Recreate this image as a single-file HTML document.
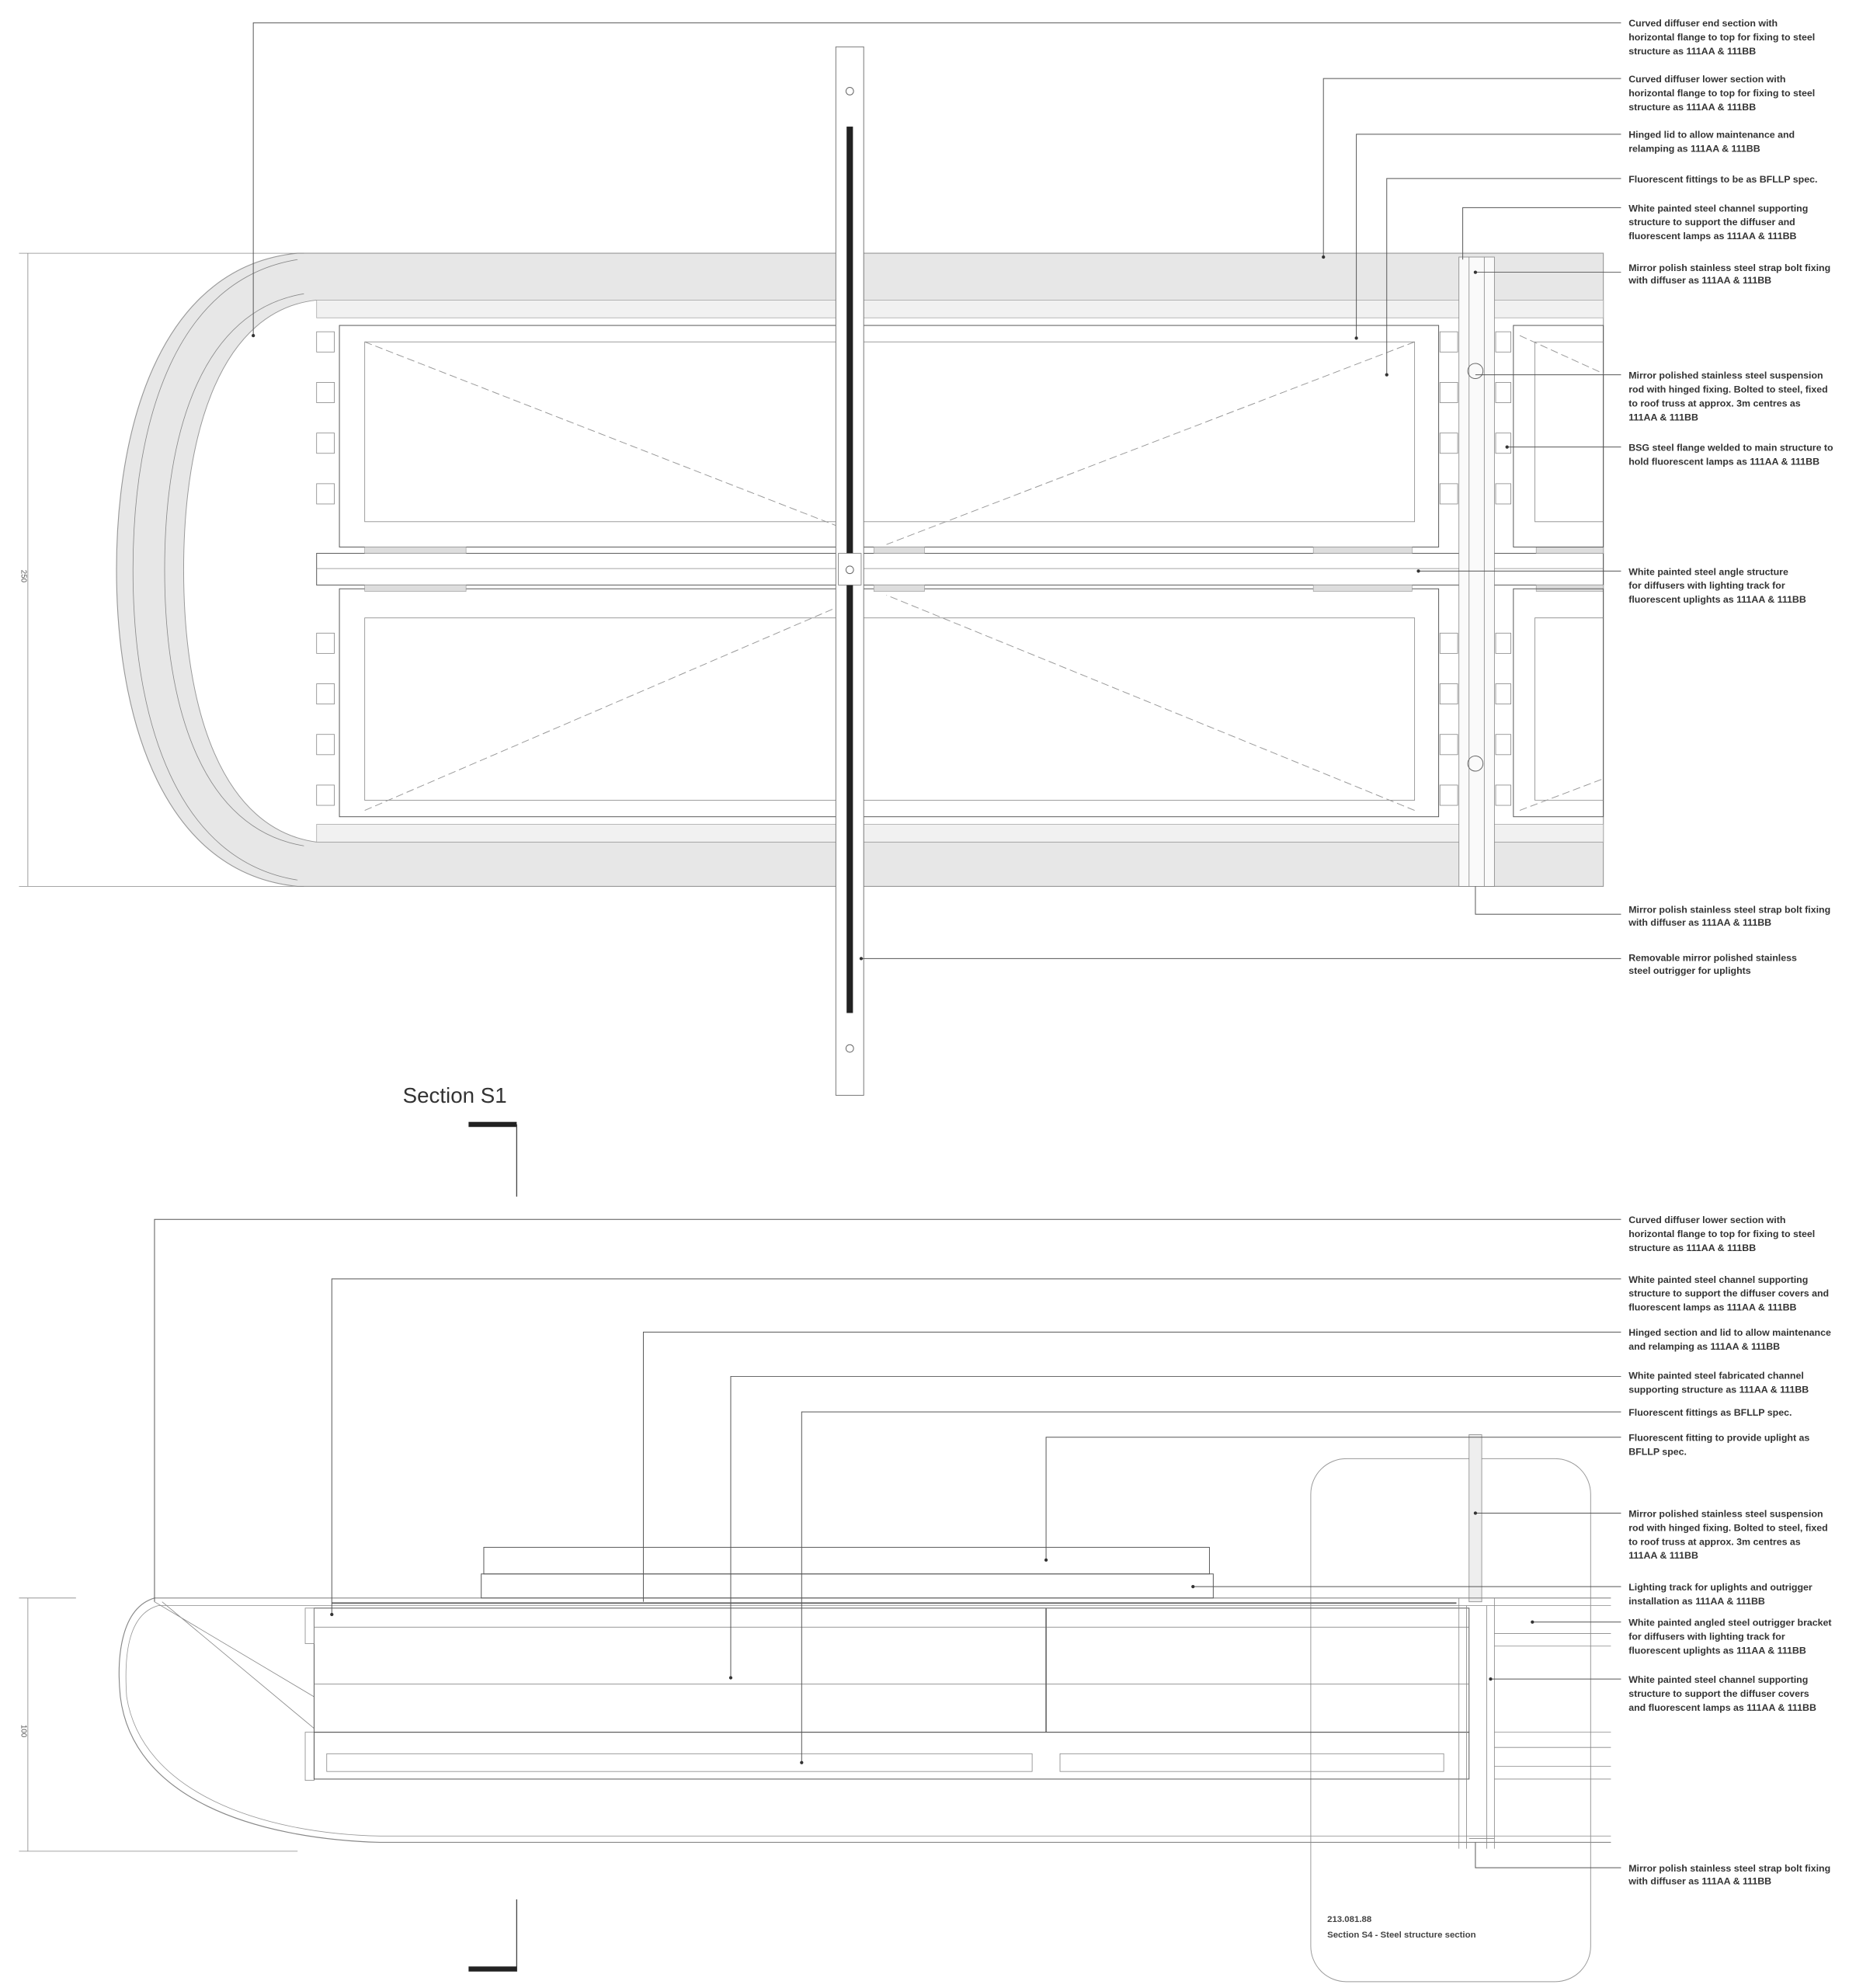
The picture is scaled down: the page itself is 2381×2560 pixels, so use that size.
<!DOCTYPE html>
<html><head><meta charset="utf-8"><style>
html,body{margin:0;padding:0;background:#fff;}
svg{display:block}
text{font-family:"Liberation Sans",sans-serif;}
.t{font-size:7.6px;font-weight:bold;fill:#333;}
.l{stroke:#555;stroke-width:0.6;fill:none}
.th{stroke:#888;stroke-width:0.5;fill:none}
.d{stroke:#999;stroke-width:0.6;fill:none;stroke-dasharray:6 3}
</style></head><body>
<svg width="2381" height="2560" viewBox="0 0 1460 1570" preserveAspectRatio="none" xmlns="http://www.w3.org/2000/svg">
<!-- ========== TOP PANEL ========== -->
<path d="M1266,200 L235,200 C130,210 92,330 92,450 C92,570 130,690 235,700 L1266,700 Z" fill="#e7e7e7" stroke="#999" stroke-width="0.7"/>
<path d="M1266,237 L250,237 C175,245 145,340 145,450 C145,560 175,655 250,665 L1266,665 Z" fill="#fff" stroke="#999" stroke-width="0.6"/>
<path d="M235,205 C140,220 105,330 105,450 C105,570 140,680 235,695" class="th"/>
<path d="M240,232 C160,245 130,340 130,450 C130,560 160,655 240,668" class="th"/>
<rect x="250" y="237" width="1016" height="14" fill="#f1f1f1" stroke="#aaa" stroke-width="0.5"/>
<rect x="250" y="651" width="1016" height="14" fill="#f1f1f1" stroke="#aaa" stroke-width="0.5"/>
<!-- left tick boxes -->
<g fill="#fff" stroke="#888" stroke-width="0.5">
<rect x="250" y="262" width="14" height="16"/><rect x="250" y="302" width="14" height="16"/><rect x="250" y="342" width="14" height="16"/><rect x="250" y="382" width="14" height="16"/>
<rect x="250" y="500" width="14" height="16"/><rect x="250" y="540" width="14" height="16"/><rect x="250" y="580" width="14" height="16"/><rect x="250" y="620" width="14" height="16"/>
<rect x="1137" y="262" width="14" height="16"/><rect x="1137" y="302" width="14" height="16"/><rect x="1137" y="342" width="14" height="16"/><rect x="1137" y="382" width="14" height="16"/>
<rect x="1137" y="500" width="14" height="16"/><rect x="1137" y="540" width="14" height="16"/><rect x="1137" y="580" width="14" height="16"/><rect x="1137" y="620" width="14" height="16"/>
<rect x="1181" y="262" width="12" height="16"/><rect x="1181" y="302" width="12" height="16"/><rect x="1181" y="342" width="12" height="16"/><rect x="1181" y="382" width="12" height="16"/>
<rect x="1181" y="500" width="12" height="16"/><rect x="1181" y="540" width="12" height="16"/><rect x="1181" y="580" width="12" height="16"/><rect x="1181" y="620" width="12" height="16"/>
</g>
<!-- panels -->
<rect x="268" y="257" width="868" height="175" class="l"/>
<rect x="268" y="465" width="868" height="180" class="l"/>
<rect x="288" y="270" width="829" height="142" class="th"/>
<rect x="288" y="488" width="829" height="144" class="th"/>
<rect x="250" y="437" width="1016" height="25" class="l"/>
<line x1="250" y1="449" x2="1266" y2="449" class="th"/>
<g fill="#ddd" stroke="#999" stroke-width="0.4">
<rect x="288" y="432" width="80" height="5"/><rect x="690" y="432" width="40" height="5"/><rect x="1037" y="432" width="78" height="5"/>
<rect x="288" y="462" width="80" height="5"/><rect x="690" y="462" width="40" height="5"/><rect x="1037" y="462" width="78" height="5"/>
<rect x="1213" y="432" width="53" height="5"/><rect x="1213" y="462" width="53" height="5"/>
</g>
<!-- diagonals -->
<line x1="288" y1="270" x2="660" y2="415" class="d"/>
<line x1="1117" y1="270" x2="700" y2="430" class="d"/>
<line x1="288" y1="640" x2="660" y2="480" class="d"/>
<line x1="1117" y1="640" x2="700" y2="470" class="d"/>
<!-- right column -->
<rect x="1152" y="203" width="28" height="497" fill="#fafafa" stroke="#888" stroke-width="0.5"/>
<line x1="1160" y1="203" x2="1160" y2="700" class="th"/><line x1="1172" y1="203" x2="1172" y2="700" class="th"/>
<circle cx="1165" cy="293" r="6" fill="none" stroke="#666" stroke-width="0.6"/>
<circle cx="1165" cy="603" r="6" fill="none" stroke="#666" stroke-width="0.6"/>
<rect x="1195" y="257" width="71" height="175" class="l"/><rect x="1195" y="465" width="71" height="180" class="l"/>
<path d="M1266,270 L1212,270 L1212,412 L1266,412 M1266,488 L1212,488 L1212,632 L1266,632" class="th"/>
<line x1="1200" y1="265" x2="1266" y2="295" class="d"/><line x1="1200" y1="640" x2="1266" y2="615" class="d"/>
<!-- vertical outrigger -->
<rect x="660" y="37" width="22" height="828" fill="#fff" stroke="#777" stroke-width="0.6"/>
<rect x="668.5" y="100" width="5" height="700" fill="#222"/>
<rect x="662" y="437" width="18" height="25" fill="#fff" stroke="#777" stroke-width="0.5"/>
<circle cx="671" cy="72" r="3" fill="none" stroke="#666" stroke-width="0.6"/>
<circle cx="671" cy="450" r="3" fill="none" stroke="#666" stroke-width="0.6"/>
<circle cx="671" cy="828" r="3" fill="none" stroke="#666" stroke-width="0.6"/>
<!-- dimension -->
<path d="M22,200 L22,700 M15,200 L240,200 M15,700 L240,700" class="th"/>
<text x="0" y="0" transform="translate(17,450) rotate(90)" font-size="6" fill="#555">250</text>
<!-- top callouts -->
<g class="l">
<path d="M1280,18 L200,18 L200,265"/>
<path d="M1280,62 L1045,62 L1045,203"/>
<path d="M1280,106 L1071,106 L1071,267"/>
<path d="M1280,141 L1095,141 L1095,296"/>
<path d="M1280,164 L1155,164 L1155,205"/>
<path d="M1280,215 L1165,215"/>
<path d="M1280,296 L1165,296"/>
<path d="M1280,353 L1190,353"/>
<path d="M1280,451 L1120,451"/>
<path d="M1280,722 L1165,722 L1165,700"/>
<path d="M1280,757 L680,757"/>
</g>
<g fill="#333"><circle cx="200" cy="265" r="1.3"/><circle cx="1045" cy="203" r="1.3"/><circle cx="1071" cy="267" r="1.3"/><circle cx="1095" cy="296" r="1.3"/><circle cx="1165" cy="215" r="1.3"/><circle cx="1190" cy="353" r="1.3"/><circle cx="1120" cy="451" r="1.3"/><circle cx="680" cy="757" r="1.3"/></g>
<g class="t">
<text x="1286" y="21">Curved diffuser end section with</text><text x="1286" y="32">horizontal flange to top for fixing to steel</text><text x="1286" y="43">structure as 111AA &amp; 111BB</text>
<text x="1286" y="65">Curved diffuser lower section with</text><text x="1286" y="76">horizontal flange to top for fixing to steel</text><text x="1286" y="87">structure as 111AA &amp; 111BB</text>
<text x="1286" y="109">Hinged lid to allow maintenance and</text><text x="1286" y="120">relamping as 111AA &amp; 111BB</text>
<text x="1286" y="144">Fluorescent fittings to be as BFLLP spec.</text>
<text x="1286" y="167">White painted steel channel supporting</text><text x="1286" y="178">structure to support the diffuser and</text><text x="1286" y="189">fluorescent lamps as 111AA &amp; 111BB</text>
<text x="1286" y="214">Mirror polish stainless steel strap bolt fixing</text><text x="1286" y="224">with diffuser as 111AA &amp; 111BB</text>
<text x="1286" y="299">Mirror polished stainless steel suspension</text><text x="1286" y="310">rod with hinged fixing. Bolted to steel, fixed</text><text x="1286" y="321">to roof truss at approx. 3m centres as</text><text x="1286" y="332">111AA &amp; 111BB</text>
<text x="1286" y="356">BSG steel flange welded to main structure to</text><text x="1286" y="367">hold fluorescent lamps as 111AA &amp; 111BB</text>
<text x="1286" y="454">White painted steel angle structure</text><text x="1286" y="465">for diffusers with lighting track for</text><text x="1286" y="476">fluorescent uplights as 111AA &amp; 111BB</text>
<text x="1286" y="721">Mirror polish stainless steel strap bolt fixing</text><text x="1286" y="731">with diffuser as 111AA &amp; 111BB</text>
<text x="1286" y="759">Removable mirror polished stainless</text><text x="1286" y="769">steel outrigger for uplights</text>
</g>
<!-- section marker -->
<text x="318" y="871" font-size="17" fill="#333">Section S1</text>
<rect x="370" y="886" width="38" height="4" fill="#222"/>
<line x1="408" y1="888" x2="408" y2="945" stroke="#444" stroke-width="0.8"/>
<line x1="408" y1="1500" x2="408" y2="1557" stroke="#444" stroke-width="0.8"/>
<rect x="370" y="1553" width="38" height="4" fill="#222"/>
<!-- ========== BOTTOM PANEL ========== -->
<rect x="1035" y="1152" width="221" height="413" rx="28" fill="none" stroke="#999" stroke-width="0.6"/>
<text x="1048" y="1518" font-size="7" font-weight="bold" fill="#444">213.081.88</text>
<text x="1048" y="1530" font-size="7" font-weight="bold" fill="#444">Section S4 - Steel structure section</text>
<rect x="1160" y="1133" width="10" height="132" fill="#eee" stroke="#888" stroke-width="0.5"/>
<path d="M1272,1262 L122,1262 C95,1270 92,1310 95,1340 C105,1420 200,1452 300,1455 L1272,1455" fill="none" stroke="#888" stroke-width="0.7"/>
<path d="M1272,1268 L125,1268 C100,1275 98,1310 100,1340 C112,1415 205,1448 300,1450 L1272,1450" fill="none" stroke="#999" stroke-width="0.5"/>
<line x1="262" y1="1266" x2="1150" y2="1266" stroke="#666" stroke-width="1.2"/>
<line x1="122" y1="1265" x2="248" y2="1340" class="th"/>
<line x1="128" y1="1265" x2="248" y2="1365" class="th"/>
<rect x="382" y="1222" width="573" height="21" class="l"/>
<rect x="380" y="1243" width="578" height="19" class="l"/>
<rect x="248" y="1270" width="912" height="98" class="l"/>
<line x1="248" y1="1285" x2="1160" y2="1285" class="th"/>
<line x1="248" y1="1330" x2="1160" y2="1330" class="th"/>
<line x1="826" y1="1270" x2="826" y2="1368" stroke="#666" stroke-width="1"/>
<rect x="241" y="1270" width="7" height="28" class="th"/><rect x="241" y="1368" width="7" height="38" class="th"/>
<rect x="248" y="1368" width="912" height="37" class="l"/>
<rect x="258" y="1385" width="557" height="14" class="th"/><rect x="837" y="1385" width="303" height="14" class="th"/>
<path d="M1152,1262 L1152,1460 M1158,1268 L1158,1460 M1174,1268 L1174,1460 M1180,1262 L1180,1460" class="th"/>
<path d="M1180,1290 L1272,1290 M1180,1300 L1272,1300 M1180,1368 L1272,1368 M1180,1380 L1272,1380 M1180,1395 L1272,1395 M1180,1405 L1272,1405 M1160,1452 L1180,1452" class="th"/>
<path d="M22,1262 L22,1462 M15,1262 L60,1262 M15,1462 L235,1462" class="th"/>
<text x="0" y="0" transform="translate(17,1362) rotate(90)" font-size="6" fill="#555">100</text>
<g class="l">
<path d="M1280,963 L122,963 L122,1265"/>
<path d="M1280,1010 L262,1010 L262,1275"/>
<path d="M1280,1052 L508,1052 L508,1265"/>
<path d="M1280,1087 L577,1087 L577,1325"/>
<path d="M1280,1115 L633,1115 L633,1392"/>
<path d="M1280,1135 L826,1135 L826,1232"/>
<path d="M1280,1195 L1165,1195"/>
<path d="M1280,1253 L942,1253"/>
<path d="M1280,1281 L1210,1281"/>
<path d="M1280,1326 L1177,1326"/>
<path d="M1280,1475 L1165,1475 L1165,1455"/>
</g>
<g fill="#333"><circle cx="262" cy="1275" r="1.3"/><circle cx="577" cy="1325" r="1.3"/><circle cx="633" cy="1392" r="1.3"/><circle cx="826" cy="1232" r="1.3"/><circle cx="942" cy="1253" r="1.3"/><circle cx="1210" cy="1281" r="1.3"/><circle cx="1177" cy="1326" r="1.3"/><circle cx="1165" cy="1195" r="1.3"/></g>
<g class="t">
<text x="1286" y="966">Curved diffuser lower section with</text><text x="1286" y="977">horizontal flange to top for fixing to steel</text><text x="1286" y="988">structure as 111AA &amp; 111BB</text>
<text x="1286" y="1013">White painted steel channel supporting</text><text x="1286" y="1024">structure to support the diffuser covers and</text><text x="1286" y="1035">fluorescent lamps as 111AA &amp; 111BB</text>
<text x="1286" y="1055">Hinged section and lid to allow maintenance</text><text x="1286" y="1066">and relamping as 111AA &amp; 111BB</text>
<text x="1286" y="1089">White painted steel fabricated channel</text><text x="1286" y="1100">supporting structure as 111AA &amp; 111BB</text>
<text x="1286" y="1118">Fluorescent fittings as BFLLP spec.</text>
<text x="1286" y="1138">Fluorescent fitting to provide uplight as</text><text x="1286" y="1149">BFLLP spec.</text>
<text x="1286" y="1198">Mirror polished stainless steel suspension</text><text x="1286" y="1209">rod with hinged fixing. Bolted to steel, fixed</text><text x="1286" y="1220">to roof truss at approx. 3m centres as</text><text x="1286" y="1231">111AA &amp; 111BB</text>
<text x="1286" y="1256">Lighting track for uplights and outrigger</text><text x="1286" y="1267">installation as 111AA &amp; 111BB</text>
<text x="1286" y="1284">White painted angled steel outrigger bracket</text><text x="1286" y="1295">for diffusers with lighting track for</text><text x="1286" y="1306">fluorescent uplights as 111AA &amp; 111BB</text>
<text x="1286" y="1329">White painted steel channel supporting</text><text x="1286" y="1340">structure to support the diffuser covers</text><text x="1286" y="1351">and fluorescent lamps as 111AA &amp; 111BB</text>
<text x="1286" y="1478">Mirror polish stainless steel strap bolt fixing</text><text x="1286" y="1488">with diffuser as 111AA &amp; 111BB</text>
</g>
</svg>
</body></html>
